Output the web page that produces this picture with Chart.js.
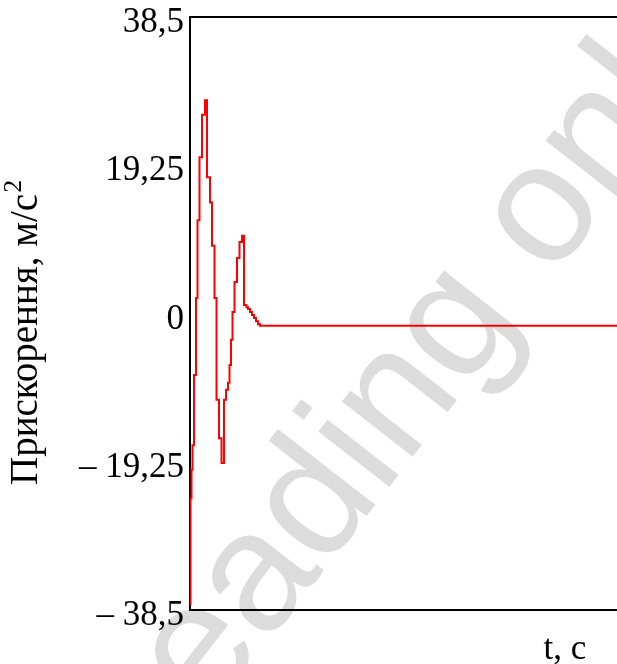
<!DOCTYPE html>
<html>
<head>
<meta charset="utf-8">
<script src="https://cdn.jsdelivr.net/npm/chart.js@4/dist/chart.umd.min.js"></script>
<style>
  html, body { margin: 0; padding: 0; background: #fff; overflow: hidden; width: 617px; height: 664px; }
  #wrap { position: absolute; left: 0; top: 0; width: 950px; height: 664px; }
</style>
</head>
<body>
<div id="wrap"><canvas id="c" width="950" height="664"></canvas></div>
<script>
// Acceleration response: start of each step (time, s) and its level (m/s²)
const timeS = [0.005, 0.005, 0.015, 0.025, 0.04, 0.06, 0.075, 0.095, 0.12, 0.15,
               0.17, 0.20, 0.22, 0.245, 0.265, 0.29, 0.315, 0.34, 0.36, 0.38,
               0.395, 0.41, 0.425, 0.445, 0.47, 0.495, 0.52, 0.54, 0.565, 0.58,
               0.60, 0.62, 0.64, 0.66, 0.68, 0.70, 0.72, 7.5];
const accel = [-37.9, -27.5, -24.0, -20.3, -17.1, -8.0, 2.0, 12.1, 20.3, 25.8,
               27.7, 17.7, 14.4, 8.8, 2.0, -11.2, -16.2, -19.4, -11.2, -9.9,
               -9.0, -6.7, -3.4, 0.2, 4.1, 7.2, 9.3, 10.1, 1.1, 0.8,
               0.6, 0.2, -0.2, -0.6, -1.0, -1.4, -1.6, -1.6];

const yTickValues = [-38.5, -19.25, 0, 19.25, 38.5];
const yTickLabels = ['\u2013 38,5', '\u2013 19,25', '0', '19,25', '38,5'];
const yTitleMain = 'Прискорення, м/с';
const yTitleSup = '2';
const xTitle = 't, c';
const watermarkText = 'Reading only';

const SERIF = '"Liberation Serif", "Times New Roman", serif';

// light diagonal stamp under the plot
const stampPlugin = {
  id: 'stamp',
  beforeDraw(chart) {
    const ctx = chart.ctx;
    ctx.save();
    ctx.translate(132, 816);
    ctx.rotate(-52 * Math.PI / 180);
    ctx.font = '170px "Liberation Sans", Arial, sans-serif';
    ctx.fillStyle = '#dcdcdc';
    ctx.textAlign = 'left';
    ctx.textBaseline = 'alphabetic';
    ctx.fillText(watermarkText, 0, 0);
    ctx.restore();
  }
};

// frame closing lines and axis titles
const framePlugin = {
  id: 'frame',
  afterDraw(chart) {
    const { ctx, chartArea: a } = chart;
    ctx.save();
    ctx.strokeStyle = '#000';
    ctx.lineWidth = 2;
    ctx.beginPath();
    ctx.moveTo(a.left - 1, a.top);
    ctx.lineTo(a.right, a.top);
    ctx.lineTo(a.right, a.bottom);
    ctx.stroke();

    ctx.fillStyle = '#000';
    // y title, rotated, with superscript
    ctx.save();
    ctx.translate(37, 485);
    ctx.rotate(-Math.PI / 2);
    ctx.font = '39px ' + SERIF;
    ctx.textAlign = 'left';
    ctx.textBaseline = 'alphabetic';
    ctx.fillText(yTitleMain, 0, 0);
    const w = ctx.measureText(yTitleMain).width;
    ctx.font = '26px ' + SERIF;
    ctx.fillText(yTitleSup, w + 1, -16);
    ctx.restore();

    // x title
    ctx.font = '35px ' + SERIF;
    ctx.textAlign = 'center';
    ctx.textBaseline = 'alphabetic';
    ctx.fillText(xTitle, (a.left + a.right) / 2, 659);
    ctx.restore();
  }
};

new Chart(document.getElementById('c'), {
  type: 'line',
  data: {
    datasets: [{
      data: timeS.map((t, i) => ({ x: t, y: accel[i] })),
      borderColor: '#ff0000',
      borderWidth: 2,
      pointRadius: 0,
      stepped: 'after',
      fill: false
    }]
  },
  options: {
    responsive: false,
    animation: false,
    devicePixelRatio: 1,
    layout: { padding: { top: 17, left: 0, right: 10, bottom: 0 } },
    plugins: { legend: { display: false }, tooltip: { enabled: false } },
    scales: {
      x: {
        type: 'linear',
        min: 0,
        max: 7.5,
        position: 'bottom',
        grid: { display: true, drawOnChartArea: false, drawTicks: false },
        border: { display: true, color: '#000', width: 2 },
        ticks: { display: false },
        afterFit(s) { s.height = 54; s.paddingLeft = 0; s.paddingRight = 0; }
      },
      y: {
        type: 'linear',
        min: -38.5,
        max: 38.5,
        grid: { display: true, drawOnChartArea: false, drawTicks: false },
        border: { display: true, color: '#000', width: 2 },
        afterBuildTicks(s) { s.ticks = yTickValues.map(v => ({ value: v })); },
        ticks: {
          autoSkip: false,
          padding: 6,
          labelOffset: 6,
          color: '#000',
          font: { family: SERIF, size: 35 },
          callback: (v, i) => yTickLabels[i]
        },
        afterFit(s) { s.width = 190; s.paddingTop = 0; s.paddingBottom = 0; }
      }
    }
  },
  plugins: [stampPlugin, framePlugin]
});
</script>
</body>
</html>
